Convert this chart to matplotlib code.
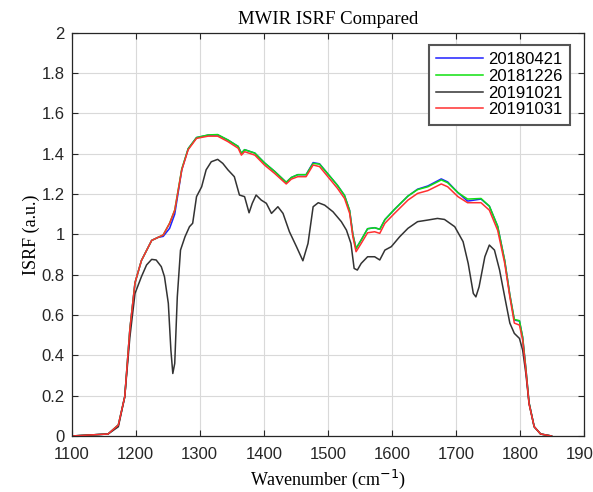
import matplotlib
matplotlib.use('Agg')
import matplotlib.pyplot as plt

# Wavenumber grid shared by the three similar ISRF curves (cm^-1)
wn = [1100, 1157, 1173, 1183, 1191, 1199, 1209, 1225, 1235, 1243, 1253, 1261,
      1272, 1282, 1295, 1313, 1328, 1344, 1360, 1365, 1370, 1386, 1401, 1417,
      1435, 1443, 1453, 1466, 1477, 1487, 1500, 1515, 1526, 1534, 1539, 1544,
      1552, 1562, 1573, 1581, 1589, 1604, 1625, 1640, 1656, 1677, 1687, 1703,
      1718, 1739, 1752, 1765, 1776, 1784, 1791, 1799, 1804, 1809, 1814, 1822,
      1832, 1849]

isrf_20180421 = [0, 0.01, 0.055, 0.195, 0.53, 0.76, 0.87, 0.97, 0.985, 0.99,
                 1.03, 1.10, 1.32, 1.425, 1.48, 1.492, 1.493, 1.468, 1.436,
                 1.402, 1.42, 1.403, 1.355, 1.312, 1.258, 1.282, 1.296, 1.296,
                 1.356, 1.35, 1.3, 1.243, 1.193, 1.118, 1.0, 0.93, 0.972, 1.028,
                 1.033, 1.025, 1.073, 1.124, 1.19, 1.224, 1.24, 1.275, 1.26,
                 1.207, 1.165, 1.175, 1.14, 1.04, 0.87, 0.7, 0.575, 0.57, 0.49,
                 0.335, 0.165, 0.046, 0.01, 0]

isrf_20181226 = [0, 0.01, 0.055, 0.195, 0.53, 0.76, 0.87, 0.97, 0.985, 0.997,
                 1.055, 1.12, 1.325, 1.425, 1.48, 1.493, 1.495, 1.468, 1.436,
                 1.402, 1.42, 1.403, 1.355, 1.312, 1.258, 1.282, 1.296, 1.296,
                 1.352, 1.348, 1.3, 1.243, 1.193, 1.118, 1.0, 0.93, 0.972, 1.028,
                 1.033, 1.025, 1.073, 1.124, 1.19, 1.222, 1.236, 1.27, 1.256,
                 1.207, 1.175, 1.178, 1.14, 1.04, 0.87, 0.7, 0.578, 0.572, 0.49,
                 0.335, 0.165, 0.046, 0.01, 0]

isrf_20191031 = [0, 0.01, 0.055, 0.195, 0.53, 0.76, 0.87, 0.97, 0.985, 0.997,
                 1.055, 1.12, 1.32, 1.42, 1.476, 1.487, 1.487, 1.46, 1.427,
                 1.393, 1.41, 1.393, 1.344, 1.302, 1.25, 1.274, 1.286, 1.286,
                 1.344, 1.336, 1.286, 1.228, 1.178, 1.104, 0.988, 0.914, 0.955,
                 1.008, 1.013, 1.005, 1.055, 1.104, 1.17, 1.203, 1.217, 1.25,
                 1.236, 1.187, 1.157, 1.157, 1.12, 1.02, 0.856, 0.69, 0.56, 0.55,
                 0.476, 0.327, 0.16, 0.046, 0.01, 0]

# The 20191021 curve has more structure, so it gets its own grid
wn_20191021 = [1100, 1157, 1173, 1183, 1191, 1199, 1209, 1217, 1225, 1232,
               1240, 1245, 1251, 1255, 1258, 1261, 1265, 1270, 1277, 1284,
               1289, 1295, 1303, 1310, 1318, 1328, 1336, 1344, 1354, 1362,
               1370, 1377, 1382, 1388, 1396, 1404, 1412, 1422, 1430, 1440,
               1451, 1461, 1469, 1477, 1485, 1495, 1508, 1521, 1529, 1536,
               1541, 1546, 1552, 1562, 1573, 1581, 1589, 1599, 1612, 1625,
               1640, 1656, 1671, 1682, 1698, 1711, 1719, 1727, 1731, 1736,
               1745, 1752, 1760, 1768, 1776, 1784, 1791, 1799, 1804, 1809,
               1814, 1822, 1832, 1849]
isrf_20191021 = [0, 0.01, 0.046, 0.195, 0.49, 0.707, 0.79, 0.848, 0.876, 0.873,
                 0.84, 0.79, 0.658, 0.426, 0.31, 0.36, 0.69, 0.922, 0.988,
                 1.038, 1.055, 1.187, 1.236, 1.32, 1.36, 1.372, 1.352, 1.32,
                 1.286, 1.195, 1.187, 1.107, 1.154, 1.195, 1.17, 1.154, 1.104,
                 1.137, 1.104, 1.013, 0.939, 0.869, 0.955, 1.137, 1.157, 1.145,
                 1.112, 1.063, 1.021, 0.955, 0.831, 0.823, 0.856, 0.889, 0.889,
                 0.873, 0.922, 0.939, 0.988, 1.03, 1.063, 1.071, 1.079, 1.074,
                 1.038, 0.964, 0.856, 0.707, 0.69, 0.74, 0.889, 0.947, 0.922,
                 0.823, 0.69, 0.56, 0.509, 0.484, 0.426, 0.31, 0.16, 0.046,
                 0.01, 0]

labels = ['20180421', '20181226', '20191021', '20191031']
xticks = [1100, 1200, 1300, 1400, 1500, 1600, 1700, 1800, 1900]
yticks = [0, 0.2, 0.4, 0.6, 0.8, 1, 1.2, 1.4, 1.6, 1.8, 2]
ytick_labels = ['0', '0.2', '0.4', '0.6', '0.8', '1', '1.2', '1.4', '1.6',
                '1.8', '2']

serif = ['Liberation Serif', 'DejaVu Serif']
plt.rcParams['font.family'] = ['Liberation Sans', 'DejaVu Sans']

fig = plt.figure(figsize=(5.93, 4.92), dpi=100)
ax = fig.add_axes([0.1207, 0.1138, 0.8644, 0.8197])

lw = 1.1
ax.plot(wn, isrf_20180421, color='#2020ff', lw=lw, label=labels[0])
ax.plot(wn, isrf_20181226, color='#10e010', lw=lw, label=labels[1])
ax.plot(wn_20191021, isrf_20191021, color='#333333', lw=lw, label=labels[2])
ax.plot(wn, isrf_20191031, color='#ff3030', lw=lw, label=labels[3])

ax.set_xlim(1100, 1900)
ax.set_ylim(0, 2)
ax.set_xticks(xticks)
ax.set_yticks(yticks)
ax.set_yticklabels(ytick_labels)
ax.tick_params(direction='in', top=True, right=True, length=4, width=0.8,
               labelsize=12, colors='#262626')
ax.tick_params(axis='x', pad=8)
ax.tick_params(axis='y', pad=5)
ax.grid(True, color='#d9d9d9', lw=0.8)
for sp in ax.spines.values():
    sp.set_color('#262626')
    sp.set_linewidth(0.9)

ax.set_title('MWIR ISRF Compared', family=serif, fontsize=13.5, pad=6)
ax.set_xlabel('Wavenumber (cm$^{-1}$)', family=serif, fontsize=13,
              labelpad=4)
ax.set_ylabel('ISRF (a.u.)', family=serif, fontsize=13, labelpad=1)

leg = ax.legend(loc='upper right', bbox_to_anchor=(0.972, 0.97),
                borderaxespad=0, fontsize=12, handlelength=2.8,
                labelspacing=0.1, handletextpad=0.3, borderpad=0.45,
                fancybox=False, framealpha=1)
leg.get_frame().set_edgecolor('#555555')
leg.get_frame().set_linewidth(1.5)

fig.savefig('out.png', dpi=100)
